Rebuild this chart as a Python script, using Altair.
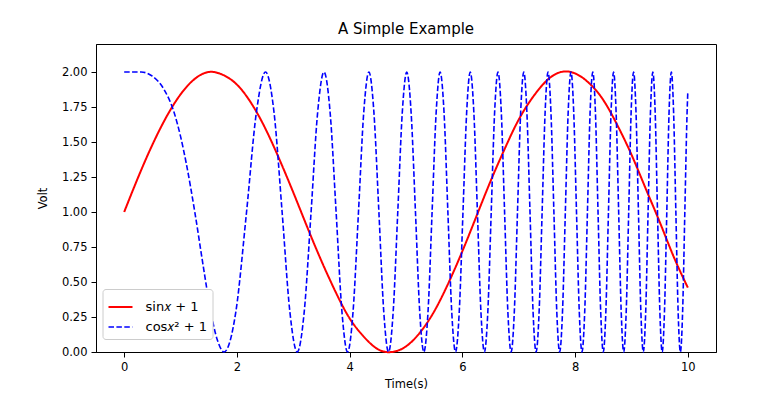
import altair as alt
import pandas as pd

# sin(x)+1 curve
sin_x = [0.0, 0.25, 0.5, 0.75, 1.0, 1.25, 1.5, 1.75, 2.0, 2.25, 2.5, 2.75, 3.0, 3.25,
         3.5, 3.75, 4.0, 4.25, 4.5, 4.75, 5.0, 5.25, 5.5, 5.75, 6.0, 6.25, 6.5, 6.75,
         7.0, 7.25, 7.5, 7.75, 8.0, 8.25, 8.5, 8.75, 9.0, 9.25, 9.5, 9.75, 10.0]
sin_y = [1.00, 1.25, 1.48, 1.68, 1.84, 1.95, 2.00, 1.98, 1.91, 1.78, 1.60, 1.38, 1.14, 0.89,
         0.65, 0.43, 0.24, 0.11, 0.02, 0.00, 0.04, 0.14, 0.29, 0.49, 0.72, 0.97, 1.22, 1.45,
         1.66, 1.82, 1.94, 2.00, 1.99, 1.92, 1.80, 1.62, 1.41, 1.17, 0.93, 0.68, 0.46]

# cos(x^2)+1 curve (peaks, troughs and shoulders)
cos_x = [0.0, 0.3, 0.5, 0.7, 0.886, 1.0, 1.1, 1.253, 1.4, 1.535, 1.65, 1.772,
         1.982, 2.171, 2.345, 2.507, 2.659, 2.802, 2.939, 3.070, 3.195, 3.316, 3.432,
         3.545, 3.654, 3.760, 3.863, 3.963, 4.061, 4.157, 4.250, 4.342, 4.431, 4.519,
         4.605, 4.690, 4.773, 4.854, 4.934, 5.013, 5.091, 5.168, 5.243, 5.317, 5.391,
         5.463, 5.535, 5.605, 5.675, 5.743, 5.811, 5.879, 5.945, 6.011, 6.076, 6.140,
         6.204, 6.267, 6.329, 6.391, 6.452, 6.512, 6.572, 6.632, 6.691, 6.749, 6.807,
         6.865, 6.922, 6.978, 7.034, 7.090, 7.145, 7.200, 7.254, 7.308, 7.362, 7.415,
         7.468, 7.520, 7.572, 7.624, 7.675, 7.726, 7.777, 7.827, 7.877, 7.927, 7.976,
         8.025, 8.074, 8.122, 8.171, 8.219, 8.266, 8.314, 8.361, 8.407, 8.454, 8.500,
         8.546, 8.592, 8.638, 8.683, 8.728, 8.773, 8.818, 8.862, 8.907, 8.951, 8.994,
         9.038, 9.081, 9.124, 9.167, 9.210, 9.253, 9.295, 9.337, 9.379, 9.421, 9.462,
         9.504, 9.545, 9.586, 9.627, 9.667, 9.708, 9.748, 9.788, 9.828, 9.868, 9.908,
         9.947, 9.987, 10.0]
cos_y = [2.00, 2.00, 1.97, 1.88, 1.71, 1.54, 1.35, 1.00, 0.62, 0.29, 0.09, 0.00,
         0.29, 1.00, 1.71, 2.00, 1.71, 1.00, 0.29, 0.00, 0.29, 1.00, 1.71,
         2.00, 1.71, 1.00, 0.29, 0.00, 0.29, 1.00, 1.71, 2.00, 1.71, 1.00,
         0.29, 0.00, 0.29, 1.00, 1.71, 2.00, 1.71, 1.00, 0.29, 0.00, 0.29,
         1.00, 1.71, 2.00, 1.71, 1.00, 0.29, 0.00, 0.29, 1.00, 1.71, 2.00,
         1.71, 1.00, 0.29, 0.00, 0.29, 1.00, 1.71, 2.00, 1.71, 1.00, 0.29,
         0.00, 0.29, 1.00, 1.71, 2.00, 1.71, 1.00, 0.29, 0.00, 0.29, 1.00,
         1.71, 2.00, 1.71, 1.00, 0.29, 0.00, 0.29, 1.00, 1.71, 2.00, 1.71,
         1.00, 0.29, 0.00, 0.29, 1.00, 1.71, 2.00, 1.71, 1.00, 0.29, 0.00,
         0.29, 1.00, 1.71, 2.00, 1.71, 1.00, 0.29, 0.00, 0.29, 1.00, 1.71,
         2.00, 1.71, 1.00, 0.29, 0.00, 0.29, 1.00, 1.71, 2.00, 1.71, 1.00,
         0.29, 0.00, 0.29, 1.00, 1.71, 2.00, 1.71, 1.00, 0.29, 0.00, 0.29,
         1.00, 1.71, 1.86]

series_names = ["sin\U0001D465 + 1", "cos\U0001D465\u00b2 + 1"]
x_ticks = [0, 2, 4, 6, 8, 10]
y_ticks = [0.0, 0.25, 0.5, 0.75, 1.0, 1.25, 1.5, 1.75, 2.0]

df = pd.concat([
    pd.DataFrame({"x": sin_x, "y": sin_y, "series": series_names[0], "order": range(len(sin_x))}),
    pd.DataFrame({"x": cos_x, "y": cos_y, "series": series_names[1], "order": range(len(cos_x))}),
])

FONT = "DejaVu Sans"

legend = alt.Legend(title=None, orient="none", legendX=6.5, legendY=245,
                    symbolType="stroke", symbolSize=576, symbolStrokeWidth=2,
                    labelFontSize=13, labelFont=FONT, labelColor="black",
                    labelOffset=12, rowPadding=0, padding=5,
                    fillColor="white", strokeColor="#cccccc", cornerRadius=3)

base = alt.Chart(df).encode(
    x=alt.X("x:Q", scale=alt.Scale(domain=[-0.5, 10.5], nice=False, zero=False),
            axis=alt.Axis(title="Time(s)", values=x_ticks, format="d", grid=False,
                          labelPadding=4, titlePadding=6)),
    y=alt.Y("y:Q", scale=alt.Scale(domain=[0, 2.2], nice=False),
            axis=alt.Axis(title="Volt", values=y_ticks, format=".2f", grid=False,
                          labelPadding=4, titlePadding=13)),
    color=alt.Color("series:N", scale=alt.Scale(domain=series_names, range=["#ff0000", "#0000ff"]),
                    legend=legend),
    strokeDash=alt.StrokeDash("series:N", scale=alt.Scale(domain=series_names, range=[[1, 0], [5.5, 2.4]]),
                              legend=legend),
    strokeWidth=alt.StrokeWidth("series:N", scale=alt.Scale(domain=series_names, range=[2, 1.6]),
                                legend=None),
    order="order:Q",
)

sin_layer = base.mark_line(interpolate="natural").transform_filter(
    alt.datum.series == series_names[0])
cos_layer = base.mark_line(interpolate="monotone").transform_filter(
    alt.datum.series == series_names[1])

chart = alt.layer(sin_layer, cos_layer).properties(
    width=620, height=308,
    title=alt.TitleParams("A Simple Example", font=FONT, fontSize=15, fontWeight="normal",
                          color="black", offset=7),
    autosize=alt.AutoSizeParams(type="none"),
    padding={"left": 88, "top": 36, "right": 10, "bottom": 50},
).configure_view(
    stroke="black", strokeWidth=1
).configure_axis(
    domainColor="black", tickColor="black", tickSize=5, labelColor="black",
    titleColor="black", labelFont=FONT, titleFont=FONT, labelFontSize=11.5,
    titleFontSize=11.5, titleFontWeight="normal", domainWidth=1, tickWidth=1
)

chart.save("out.html", embed_options={"renderer": "svg", "actions": False})
